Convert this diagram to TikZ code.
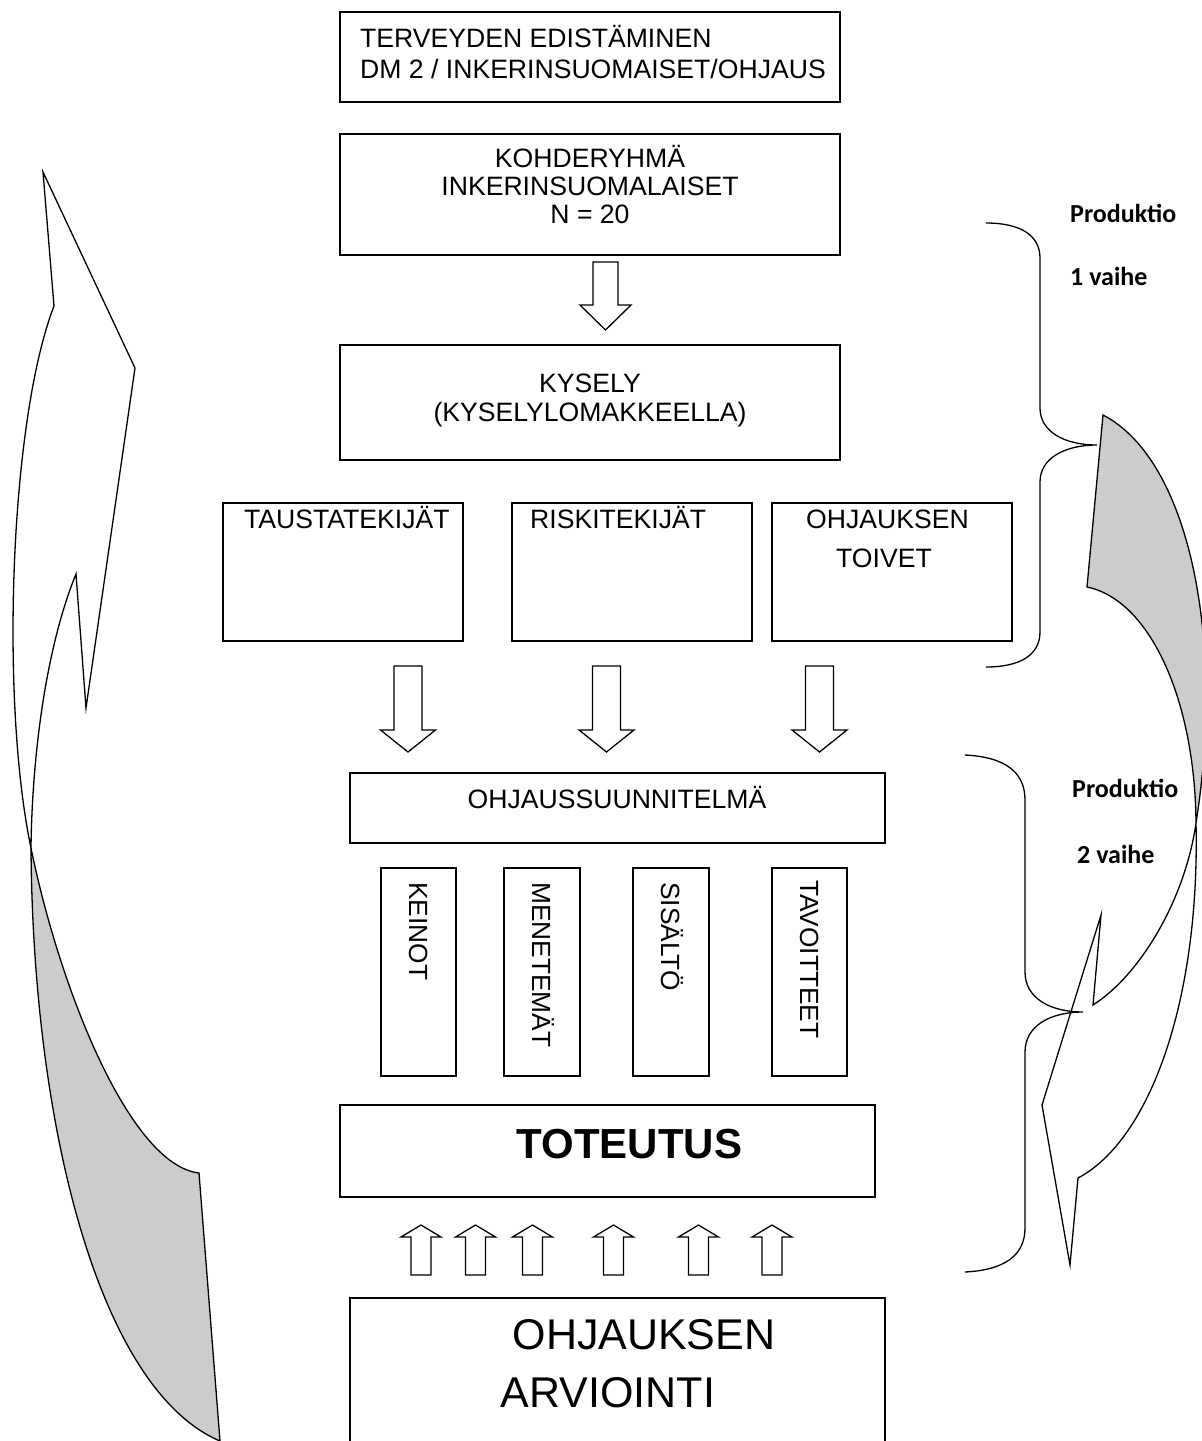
\documentclass[tikz,border=0pt]{standalone}
\usepackage{fontspec}
\setmainfont{Liberation Sans}
\newfontfamily\calfont{Carlito}
\definecolor{shade}{HTML}{CCCCCC}
\newcommand\blkarr[6]{\draw[blk] ({#1-#5},#2) -- ({#1+#5},#2) -- ({#1+#5},#3) -- ({#1+#6},#3) -- (#1,#4) -- ({#1-#6},#3) -- ({#1-#5},#3) -- cycle;}
\begin{document}
\begin{tikzpicture}[x=1pt,y=-1pt,
  boxstyle/.style={draw, line width=1.4pt, inner sep=0pt, fill=white},
  lbl/.style={inner sep=0pt, font=\fontsize{26.6}{31}\selectfont},
  vlbl/.style={inner sep=0pt, font=\fontsize{26.3}{31}\selectfont, rotate=-90, anchor=west, text height=18.8pt, text depth=0pt},
  big/.style={inner sep=0pt, font=\fontsize{43}{50}\selectfont},
  prod/.style={inner sep=0pt, font=\calfont\bfseries\fontsize{26}{31}\selectfont, anchor=base west},
  blk/.style={draw, line width=1.3pt, fill=white, line join=miter},
  face/.style={draw, line width=1.3pt, fill=white, line join=miter},
  backface/.style={draw, line width=1.3pt, fill=shade, line join=miter},
  bracestyle/.style={draw, line width=1.3pt}]
\useasboundingbox (0,0) rectangle (1202,1441);

% ---------- left curved arrow ----------
\filldraw[backface] (31,848) .. controls (33,1130) and (100,1390) .. (220,1441) -- (199,1173) .. controls (130,1165) and (60,990) .. (31,848) -- cycle;
\filldraw[face] (54,306) -- (43,172) -- (135,368) -- (86,708) -- (76,574) .. controls (45,650) and (32,760) .. (31,848) .. controls (0,700) and (10,420) .. (54,306) -- cycle;

% ---------- right curved arrow ----------
\filldraw[backface] (1103,415) .. controls (1190,460) and (1225,640) .. (1196,823) .. controls (1195,700) and (1150,600) .. (1087,587) -- cycle;
\filldraw[face] (1196,823) .. controls (1200,1000) and (1150,1140) .. (1078,1178) -- (1070,1265) -- (1042,1105) -- (1101,915) -- (1093,1005) .. controls (1140,975) and (1185,900) .. (1196,823) -- cycle;

% ---------- braces ----------
\draw[bracestyle] (986,223) .. controls (1020,223) and (1040,235) .. (1040,258) -- (1040,408) .. controls (1040,432) and (1065,445) .. (1097,445) .. controls (1065,445) and (1040,458) .. (1040,482) -- (1040,632) .. controls (1040,655) and (1020,667) .. (986,667);
\draw[bracestyle] (965,755) .. controls (1005,757) and (1025,772) .. (1025,800) -- (1025,972) .. controls (1025,998) and (1050,1012) .. (1083,1012) .. controls (1050,1012) and (1025,1026) .. (1025,1052) -- (1025,1228) .. controls (1025,1255) and (1005,1270) .. (965,1272);

\node[prod] (p1) at (1070,222) {Produktio};
\node[prod] (v1) at (1070,285) {1 vaihe};
\node[prod] (p2) at (1072,797) {Produktio};
\node[prod] (v2) at (1077,863) {2 vaihe};

% ---------- boxes ----------
\node[boxstyle, minimum width=500pt, minimum height=90pt] (b1) at (590,57) {};
\node[boxstyle, minimum width=500pt, minimum height=121pt] (b2) at (590,194.5) {};
\node[boxstyle, minimum width=500pt, minimum height=115pt] (b3) at (590,402.5) {};
\node[boxstyle, minimum width=240pt, minimum height=138pt] (b4a) at (343,572) {};
\node[boxstyle, minimum width=240pt, minimum height=138pt] (b4b) at (632,572) {};
\node[boxstyle, minimum width=240pt, minimum height=138pt] (b4c) at (892,572) {};
\node[boxstyle, minimum width=535pt, minimum height=70pt] (b5) at (617.5,808) {};
\node[boxstyle, minimum width=75pt, minimum height=208pt] (v1b) at (418.5,972) {};
\node[boxstyle, minimum width=76pt, minimum height=208pt] (v2b) at (542,972) {};
\node[boxstyle, minimum width=76pt, minimum height=208pt] (v3b) at (671,972) {};
\node[boxstyle, minimum width=75pt, minimum height=208pt] (v4b) at (809.5,972) {};
\node[boxstyle, minimum width=535pt, minimum height=92pt] (b6) at (607.5,1151) {};
\node[boxstyle, minimum width=535pt, minimum height=202pt] (b7) at (617.5,1399) {};

% ---------- texts ----------
\node[lbl, anchor=base west] (t1a) at (360,47) {TERVEYDEN EDISTÄMINEN};
\node[lbl, anchor=base west] (t1b) at (360,78) {DM 2 / INKERINSUOMAISET/OHJAUS};
\node[lbl, anchor=base] (t2a) at (590,167) {KOHDERYHMÄ};
\node[lbl, anchor=base] (t2b) at (590,195) {INKERINSUOMALAISET};
\node[lbl, anchor=base] (t2c) at (590,223) {N = 20};
\node[lbl, anchor=base] (t3a) at (590,392) {KYSELY};
\node[lbl, anchor=base] (t3b) at (590,421) {(KYSELYLOMAKKEELLA)};
\node[lbl, anchor=base west] (t4a) at (244,528) {TAUSTATEKIJÄT};
\node[lbl, anchor=base west] (t4b) at (530,528) {RISKITEKIJÄT};
\node[lbl, anchor=base west] (t4c) at (806,528) {OHJAUKSEN};
\node[lbl, anchor=base west] (t4d) at (836,567) {TOIVET};
\node[lbl, anchor=base] (t5) at (617,808) {OHJAUSSUUNNITELMÄ};
\node[vlbl] (k1) at (418.5,882) {KEINOT};
\node[vlbl] (k2) at (542,882) {MENETEMÄT};
\node[vlbl] (k3) at (671,882) {SISÄLTÖ};
\node[vlbl] (k4) at (809.5,880) {TAVOITTEET};
\node[big, font=\bfseries\fontsize{42}{50}\selectfont, anchor=base] (t6) at (629.5,1158) {TOTEUTUS};
\node[big, anchor=base] (t7a) at (644,1349) {OHJAUKSEN};
\node[big, anchor=base] (t7b) at (608,1407) {ARVIOINTI};

% ---------- block arrows ----------
\blkarr{605.5}{262}{305}{330}{12.5}{25.5}
\blkarr{408}{666}{730}{752}{14}{27.5}
\blkarr{606.5}{666}{730}{752}{14}{27.5}
\blkarr{819.5}{666}{730}{752}{14}{27.5}
\blkarr{421}{1275}{1237}{1225}{10}{20}
\blkarr{475.5}{1275}{1237}{1225}{10}{20}
\blkarr{532.5}{1275}{1237}{1225}{10}{20}
\blkarr{613.5}{1275}{1237}{1225}{10}{20}
\blkarr{698.5}{1275}{1237}{1225}{10}{20}
\blkarr{772}{1275}{1237}{1225}{10}{20}
\end{tikzpicture}
\end{document}
